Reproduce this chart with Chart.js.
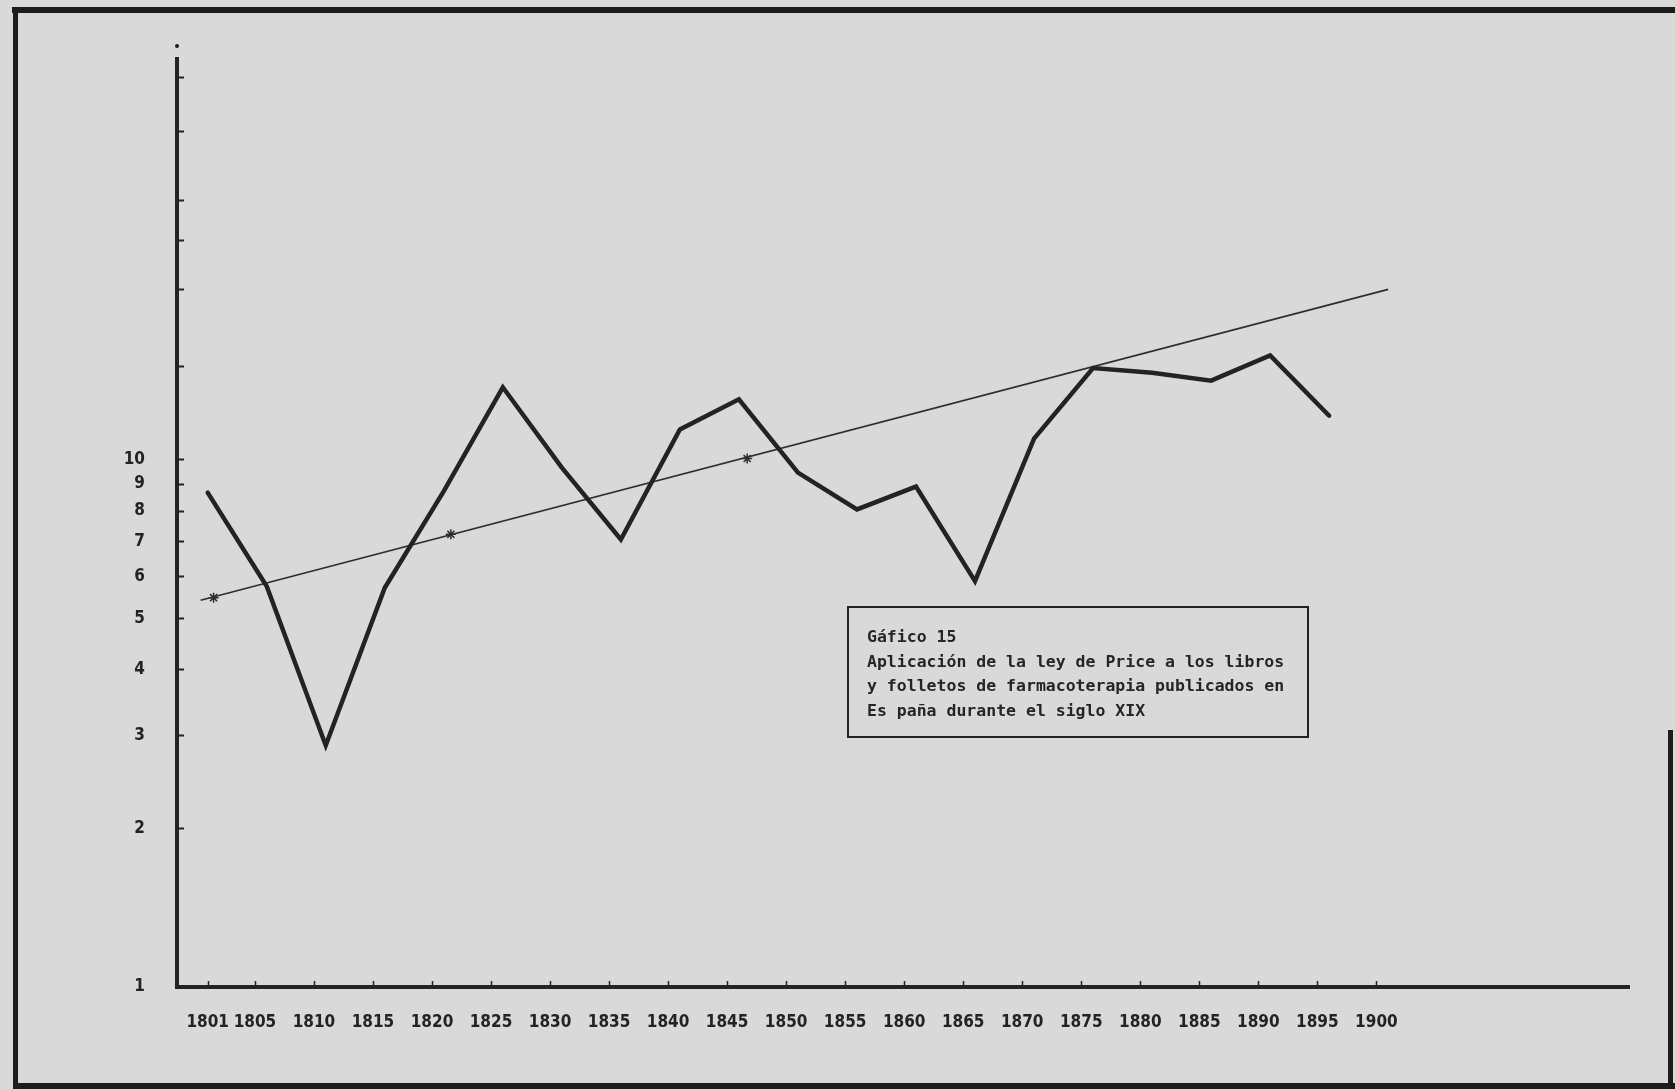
<!DOCTYPE html>
<html lang="es">
<head>
<meta charset="utf-8">
<title>Gáfico 15 – Ley de Price</title>
<script src="https://cdn.jsdelivr.net/npm/chart.js@4/dist/chart.umd.min.js"></script>
<style>
  html, body { margin: 0; padding: 0; background: #d9d9d9; }
  #wrap { position: relative; width: 1675px; height: 1089px; overflow: hidden; }
  #chart { position: absolute; left: 0; top: 0; }
  #caption {
    position: absolute; left: 847px; top: 606px; width: 458px; height: 128px;
    border: 2.5px solid #232323; box-sizing: content-box;
    padding: 0; font-family: "DejaVu Sans Mono", "Liberation Mono", monospace;
    font-weight: bold; font-size: 16.5px; color: #252525; line-height: 24.5px;
  }
  #caption .txt { position: absolute; left: 18px; top: 17px; white-space: pre; }
</style>
</head>
<body>
<div id="wrap">
  <canvas id="chart" width="1675" height="1089"></canvas>
  <div id="caption"><div class="txt">Gáfico 15
Aplicación de la ley de Price a los libros
y folletos de farmacoterapia publicados en
Es paña durante el siglo XIX</div></div>
</div>
<script>
// Publications per five-year period (log scale), 1801–1900
const periodYears = [1801, 1806, 1811, 1816, 1821, 1826, 1831, 1836, 1841, 1846,
                     1851, 1856, 1861, 1866, 1871, 1876, 1881, 1886, 1891, 1896];
const periodCounts = [8.65, 5.75, 2.87, 5.71, 8.71, 13.7, 9.65, 7.05, 11.4, 13.0,
                      9.44, 8.04, 8.88, 5.88, 10.95, 14.9, 14.6, 14.1, 15.75, 12.1];

// Exponential (Price) growth line and its marked points
const trendYears = [1800.4, 1901];
const trendValues = [5.41, 21.0];
const markYears = [1801.5, 1821.6, 1846.7];
const markValues = [5.47, 7.21, 10.04];

// Axis ticks
const xTickYears = [1801, 1805, 1810, 1815, 1820, 1825, 1830, 1835, 1840, 1845, 1850,
                    1855, 1860, 1865, 1870, 1875, 1880, 1885, 1890, 1895, 1900];
const yLabelled = [1, 2, 3, 4, 5, 6, 7, 8, 9, 10];
const yUnlabelled = [15, 21, 26, 31, 42, 53];

const ink = '#232323';
const tickFont = { family: "'Liberation Sans Narrow', 'DejaVu Sans Condensed', sans-serif", size: 17, weight: 'bold' };

// Paper background, page frame and short inward axis ticks
const paperPlugin = {
  id: 'paper',
  beforeDraw(chart) {
    const c = chart.ctx;
    c.save();
    c.fillStyle = '#d9d9d9';
    c.fillRect(0, 0, chart.width, chart.height);
    c.fillStyle = '#1c1c1c';
    c.fillRect(12, 7, 1663, 6);      // top edge
    c.fillRect(13, 7, 5, 1082);      // left edge
    c.fillRect(13, 1083, 1662, 6);   // bottom edge
    c.fillRect(1668, 730, 5, 359);   // right edge (lower part)
    c.beginPath();
    c.arc(177, 46, 2, 0, Math.PI * 2);
    c.fill();
    c.restore();
  },
  afterDraw(chart) {
    const c = chart.ctx, xs = chart.scales.x, ys = chart.scales.y;
    const area = chart.chartArea;
    c.save();
    c.strokeStyle = ink;
    c.lineWidth = 2;
    c.beginPath();
    ys.ticks.forEach(t => {
      if (t.value <= 1) return;
      const py = Math.round(ys.getPixelForValue(t.value)) + 0.5;
      c.moveTo(area.left, py);
      c.lineTo(area.left + 7, py);
    });
    c.stroke();
    c.lineWidth = 1.5;
    c.beginPath();
    xs.ticks.forEach(t => {
      const px = Math.round(xs.getPixelForValue(t.value)) + 0.5;
      c.moveTo(px, area.bottom);
      c.lineTo(px, area.bottom - 6);
    });
    c.stroke();
    c.restore();
  }
};

new Chart(document.getElementById('chart'), {
  type: 'line',
  data: {
    datasets: [
      {
        data: periodYears.map((x, i) => ({ x, y: periodCounts[i] })),
        borderColor: ink, borderWidth: 4.5, pointRadius: 0,
        tension: 0, borderJoinStyle: 'miter', borderCapStyle: 'round'
      },
      {
        data: trendYears.map((x, i) => ({ x, y: trendValues[i] })),
        borderColor: '#2e2e2e', borderWidth: 1.6, pointRadius: 0, tension: 0
      },
      {
        data: markYears.map((x, i) => ({ x, y: markValues[i] })),
        showLine: false, pointStyle: 'star', pointRadius: 5,
        borderColor: '#2e2e2e', pointBorderWidth: 1.5
      }
    ]
  },
  options: {
    responsive: false,
    devicePixelRatio: 1,
    animation: false,
    layout: { padding: { left: 0, top: 59, right: 46, bottom: 0 } },
    plugins: { legend: { display: false }, tooltip: { enabled: false } },
    scales: {
      x: {
        type: 'linear', min: 1798.4, max: 1921.4,
        afterBuildTicks: s => { s.ticks = xTickYears.map(v => ({ value: v })); },
        afterFit: s => { s.height = 102; },
        grid: { drawOnChartArea: false, drawTicks: false },
        border: { display: true, color: ink, width: 4 },
        ticks: { color: ink, font: tickFont, padding: 25, maxRotation: 0, autoSkip: false,
                 callback: v => String(v) }
      },
      y: {
        type: 'logarithmic', min: 1, max: 57.4,
        afterBuildTicks: s => {
          s.ticks = yLabelled.concat(yUnlabelled).map(v => ({ value: v }));
        },
        afterFit: s => { s.width = 177; },
        grid: { drawOnChartArea: false, drawTicks: false },
        border: { display: true, color: ink, width: 4 },
        ticks: { color: ink, font: tickFont, padding: 32, autoSkip: false,
                 callback: v => (yLabelled.includes(v) ? String(v) : '') }
      }
    }
  },
  plugins: [paperPlugin]
});
</script>
</body>
</html>
